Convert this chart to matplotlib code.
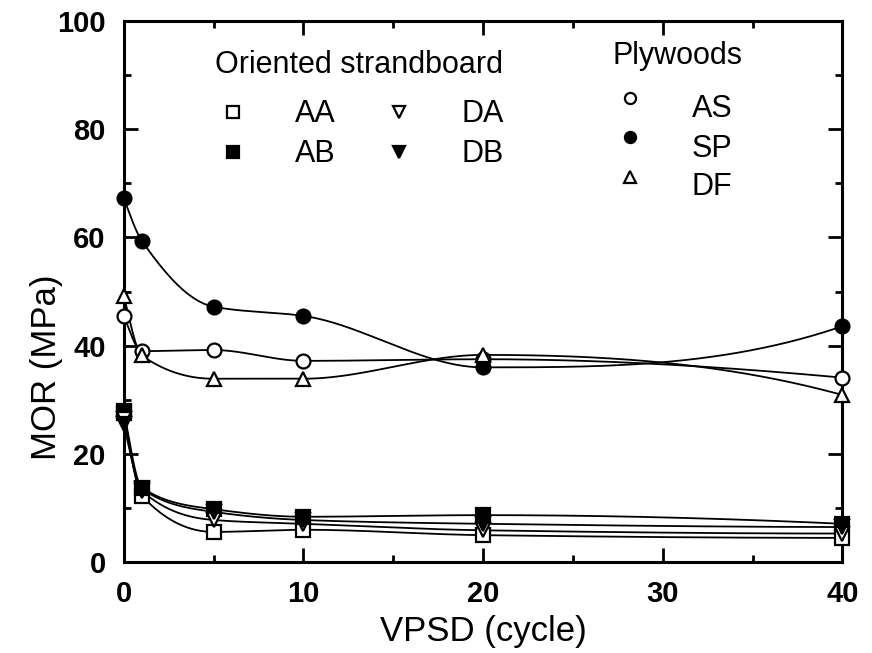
import matplotlib
matplotlib.use("Agg")
import matplotlib.pyplot as plt
from matplotlib.ticker import MultipleLocator
import numpy as np

plt.rcParams["font.family"] = ["Liberation Sans", "DejaVu Sans"]

# データ
cycles = [0, 1, 5, 10, 20, 40]

# 合板 (Plywoods)
mor_as = [45.5, 39.0, 39.2, 37.2, 37.5, 34.1]
mor_sp = [67.2, 59.4, 47.2, 45.5, 36.0, 43.6]
mor_df = [49.2, 38.2, 33.9, 33.9, 38.3, 30.9]

# OSB
mor_aa = [27.5, 12.3, 5.6, 6.0, 5.0, 4.5]
mor_ab = [28.0, 13.8, 9.8, 8.4, 8.7, 7.1]
mor_da = [26.5, 13.2, 7.8, 7.1, 5.9, 5.3]
mor_db = [25.5, 13.6, 9.3, 7.8, 7.1, 6.5]


def pchip(x, y, xs):
    # 単調保存の3次補間（曲線の描画用）
    x = np.asarray(x, float)
    y = np.asarray(y, float)
    h = np.diff(x)
    delta = np.diff(y) / h
    n = len(x)
    d = np.zeros(n)
    for k in range(1, n - 1):
        if delta[k - 1] * delta[k] > 0:
            w1 = 2 * h[k] + h[k - 1]
            w2 = h[k] + 2 * h[k - 1]
            d[k] = (w1 + w2) / (w1 / delta[k - 1] + w2 / delta[k])

    def end(h0, h1, d0, d1):
        v = ((2 * h0 + h1) * d0 - h0 * d1) / (h0 + h1)
        if np.sign(v) != np.sign(d0):
            return 0.0
        if np.sign(d0) != np.sign(d1) and abs(v) > 3 * abs(d0):
            return 3 * d0
        return v

    d[0] = end(h[0], h[1], delta[0], delta[1])
    d[-1] = end(h[-1], h[-2], delta[-1], delta[-2])
    idx = np.clip(np.searchsorted(x, xs) - 1, 0, n - 2)
    hh = h[idx]
    t = (xs - x[idx]) / hh
    h00 = 2 * t**3 - 3 * t**2 + 1
    h10 = t**3 - 2 * t**2 + t
    h01 = -2 * t**3 + 3 * t**2
    h11 = t**3 - t**2
    return h00 * y[idx] + h10 * hh * d[idx] + h01 * y[idx + 1] + h11 * hh * d[idx + 1]


fig = plt.figure(figsize=(8.72, 6.53), dpi=100)
ax = fig.add_axes([0.142, 0.139, 0.824, 0.829])

xs = np.linspace(0, 40, 800)
series = [
    (mor_aa, "s", "white"),
    (mor_ab, "s", "black"),
    (mor_da, "v", "white"),
    (mor_db, "v", "black"),
    (mor_as, "o", "white"),
    (mor_sp, "o", "black"),
    (mor_df, "^", "white"),
]
for vals, mk, fc in series:
    ax.plot(xs, pchip(cycles, vals, xs), color="black", lw=1.3, zorder=2)
    ax.plot(cycles, vals, ls="none", marker=mk, ms=10, mfc=fc, mec="black",
            mew=1.6, clip_on=False, zorder=3)

ax.set_xlim(0, 40)
ax.set_ylim(0, 100)
ax.xaxis.set_major_locator(MultipleLocator(10))
ax.xaxis.set_minor_locator(MultipleLocator(5))
ax.yaxis.set_major_locator(MultipleLocator(20))
ax.yaxis.set_minor_locator(MultipleLocator(10))
ax.tick_params(which="both", direction="in", top=True, right=True, width=2)
ax.tick_params(which="major", length=10, labelsize=21)
ax.tick_params(axis="x", which="major", pad=13)
ax.tick_params(axis="y", which="major", pad=13)
ax.tick_params(which="minor", length=5)
for lab in ax.get_xticklabels() + ax.get_yticklabels():
    lab.set_fontweight("bold")
for sp in ax.spines.values():
    sp.set_linewidth(2.2)

ax.set_xlabel("VPSD (cycle)", fontsize=25, labelpad=5)
ax.set_ylabel("MOR (MPa)", fontsize=25)
ax.yaxis.set_label_coords(-0.085, 0.36)

# 凡例（図中に配置）
fs = 22
ax.text(5.1, 90.3, "Oriented strandboard", fontsize=fs, va="baseline")
ax.plot(6.1, 83.2, "s", ms=8, mfc="white", mec="black", mew=1.6)
ax.text(9.5, 81.3, "AA", fontsize=fs, va="baseline")
ax.plot(6.1, 75.8, "s", ms=8, mfc="black", mec="black", mew=1.6)
ax.text(9.5, 74.0, "AB", fontsize=fs, va="baseline")
ax.plot(15.3, 83.2, "v", ms=8, mfc="white", mec="black", mew=1.6)
ax.text(18.8, 81.3, "DA", fontsize=fs, va="baseline")
ax.plot(15.3, 75.8, "v", ms=8, mfc="black", mec="black", mew=1.6)
ax.text(18.8, 74.0, "DB", fontsize=fs, va="baseline")

ax.text(27.2, 92.0, "Plywoods", fontsize=fs, va="baseline")
ax.plot(28.2, 85.7, "o", ms=8, mfc="white", mec="black", mew=1.6)
ax.text(31.6, 82.2, "AS", fontsize=fs, va="baseline")
ax.plot(28.2, 78.6, "o", ms=8, mfc="black", mec="black", mew=1.6)
ax.text(31.6, 74.9, "SP", fontsize=fs, va="baseline")
ax.plot(28.2, 71.2, "^", ms=8, mfc="white", mec="black", mew=1.6)
ax.text(31.6, 67.8, "DF", fontsize=fs, va="baseline")

fig.savefig("out.png", dpi=100, facecolor="white")
